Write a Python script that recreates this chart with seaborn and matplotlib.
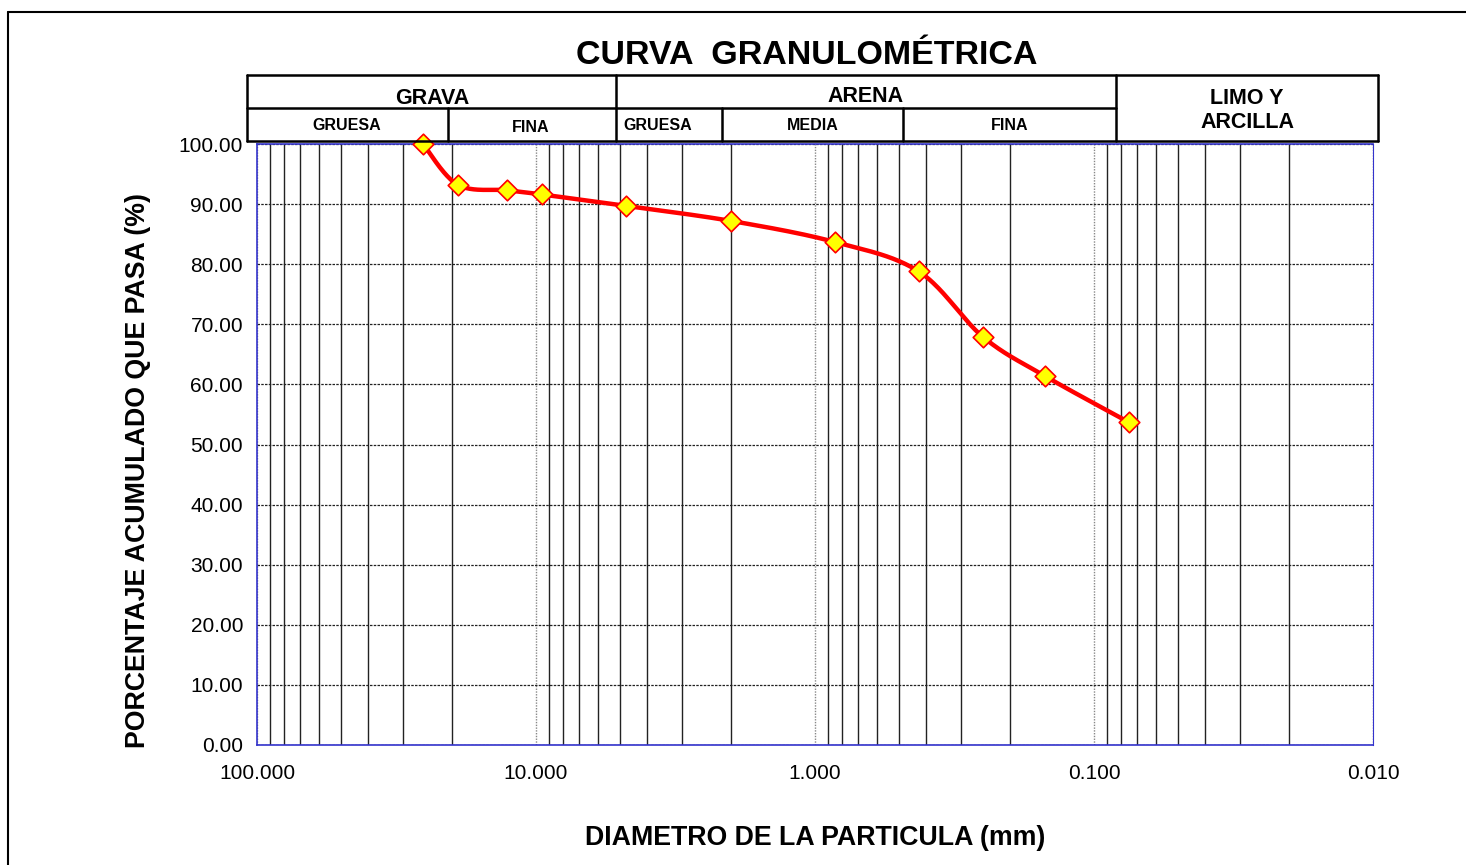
import numpy as np
import pandas as pd
import matplotlib
matplotlib.use("Agg")
import matplotlib.pyplot as plt
import matplotlib.ticker as mticker
from matplotlib.lines import Line2D
import seaborn as sns

# ── data ──────────────────────────────────────────────────────────────────────
diametro_mm = [25.4, 19.05, 12.7, 9.525, 4.76, 2.0, 0.85, 0.425, 0.25, 0.15, 0.075]
pasa_pct = [100.0, 93.2, 92.3, 91.6, 89.7, 87.2, 83.7, 78.8, 67.9, 61.4, 53.7]

x_ticks = [100, 10, 1, 0.1, 0.01]
y_ticks = [0, 10, 20, 30, 40, 50, 60, 70, 80, 90, 100]

titulo = "CURVA  GRANULOMÉTRICA"
x_label = "DIAMETRO DE LA PARTICULA (mm)"
y_label = "PORCENTAJE ACUMULADO QUE PASA (%)"

W, H = 1466, 865
BLUE = "#3333cc"


def fx(px):
    return px / W


def fy(py):
    return 1 - py / H


def smooth_curve(d, p, n=40):
    """Excel-like smoothed line (Catmull-Rom bezier) built in screen scale."""
    xs = (2 - np.log10(d)) / 4 * 1116
    ys = np.asarray(p) / 100 * 601
    pts = np.column_stack([xs, ys])
    out = []
    for i in range(len(pts) - 1):
        p0 = pts[i - 1] if i > 0 else pts[i]
        p1, p2 = pts[i], pts[i + 1]
        p3 = pts[i + 2] if i + 2 < len(pts) else pts[i + 1]
        c1 = p1 + (p2 - p0) / 6
        c2 = p2 - (p3 - p1) / 6
        t = np.linspace(0, 1, n)[:, None]
        seg = ((1 - t) ** 3) * p1 + 3 * ((1 - t) ** 2) * t * c1 + 3 * (1 - t) * t ** 2 * c2 + t ** 3 * p2
        out.append(seg if i == 0 else seg[1:])
    out = np.vstack(out)
    return 10 ** (2 - out[:, 0] / 1116 * 4), out[:, 1] / 601 * 100


sns.set_style("white")
plt.rcParams["font.family"] = ["Liberation Sans", "DejaVu Sans"]

fig = plt.figure(figsize=(W / 100, H / 100), dpi=100)
ax = fig.add_axes([fx(257), fy(745), fx(1373) - fx(257), fy(144) - fy(745)])

df = pd.DataFrame({"diametro": diametro_mm, "pasa": pasa_pct})
sx, sy = smooth_curve(diametro_mm, pasa_pct)
curve = pd.DataFrame({"diametro": sx, "pasa": sy})

sns.lineplot(data=curve, x="diametro", y="pasa", sort=False, color="#ff0000",
             lw=3.2, ax=ax, zorder=3)
sns.scatterplot(data=df, x="diametro", y="pasa", marker="D", s=110,
                color="#ffff00", edgecolor="#ff0000", linewidth=1.2, ax=ax,
                zorder=4, clip_on=False)

ax.set_xscale("log")
ax.set_xlim(100, 0.01)
ax.set_ylim(0, 100)
ax.set_xticks(x_ticks)
ax.xaxis.set_major_formatter(mticker.FuncFormatter(lambda v, _: f"{v:.3f}"))
ax.xaxis.set_minor_locator(mticker.LogLocator(base=10, subs=np.arange(2, 10)))
ax.xaxis.set_minor_formatter(mticker.NullFormatter())
ax.set_yticks(y_ticks)
ax.yaxis.set_major_formatter(mticker.FormatStrFormatter("%.2f"))

ax.grid(which="major", axis="x", color="#888888", ls=(0, (1, 1)), lw=1.0)
ax.grid(which="minor", axis="x", color="#222222", ls="-", lw=1.0)
ax.grid(which="major", axis="y", color="#222222", ls=(0, (2, 1)), lw=0.9)

for side in ["left", "bottom", "top"]:
    ax.spines[side].set_color(BLUE)
    ax.spines[side].set_linewidth(1.2)
ax.spines["right"].set_color(BLUE)
ax.spines["right"].set_linestyle((0, (1, 1)))

ax.tick_params(axis="both", which="major", direction="out", color=BLUE,
               length=6, width=1.2, labelsize=15, labelcolor="black")
ax.tick_params(axis="x", which="major", pad=8)
ax.tick_params(axis="y", which="major", pad=4)
ax.tick_params(axis="x", which="minor", length=0)
ax.set_xlabel("")
ax.set_ylabel("")

# ── header table ──────────────────────────────────────────────────────────────
lw_box = 1.8
def hline(x0, x1, y):
    fig.add_artist(Line2D([fx(x0), fx(x1)], [fy(y), fy(y)], color="black", lw=lw_box))

def vline(x, y0, y1):
    fig.add_artist(Line2D([fx(x), fx(x)], [fy(y0), fy(y1)], color="black", lw=lw_box))

hline(247, 1378, 75)
hline(247, 1116, 108)
hline(247, 1378, 141)
vline(247, 75, 141)
vline(1378, 75, 141)
vline(616, 75, 141)
vline(1116, 75, 141)
vline(448, 108, 141)
vline(722, 108, 141)
vline(903, 108, 141)

hdr = dict(ha="center", va="center", fontweight="bold", color="black")
fig.text(fx(432), fy(98), "GRAVA", fontsize=15.5, **hdr)
fig.text(fx(866), fy(96), "ARENA", fontsize=15.5, **hdr)
fig.text(fx(1247), fy(98), "LIMO Y", fontsize=15.5, **hdr)
fig.text(fx(1247), fy(122), "ARCILLA", fontsize=15.5, **hdr)
fig.text(fx(347), fy(125), "GRUESA", fontsize=11.5, **hdr)
fig.text(fx(531), fy(128), "FINA", fontsize=11.5, **hdr)
fig.text(fx(658), fy(126), "GRUESA", fontsize=11.5, **hdr)
fig.text(fx(813), fy(126), "MEDIA", fontsize=11.5, **hdr)
fig.text(fx(1010), fy(126), "FINA", fontsize=11.5, **hdr)

fig.text(fx(807), fy(55), titulo, fontsize=24.5, **hdr)
fig.text(fx(815), fy(838), x_label, fontsize=19.3, **hdr)
fig.text(fx(138), fy(470), y_label, fontsize=19.3, rotation=90, **hdr)

# outer frame
fig.add_artist(Line2D([fx(8), 1.0], [fy(12), fy(12)], color="black", lw=1.5))
fig.add_artist(Line2D([fx(8), fx(8)], [fy(12), 0.0], color="black", lw=1.5))

fig.savefig("out.png", dpi=100)
plt.close(fig)
